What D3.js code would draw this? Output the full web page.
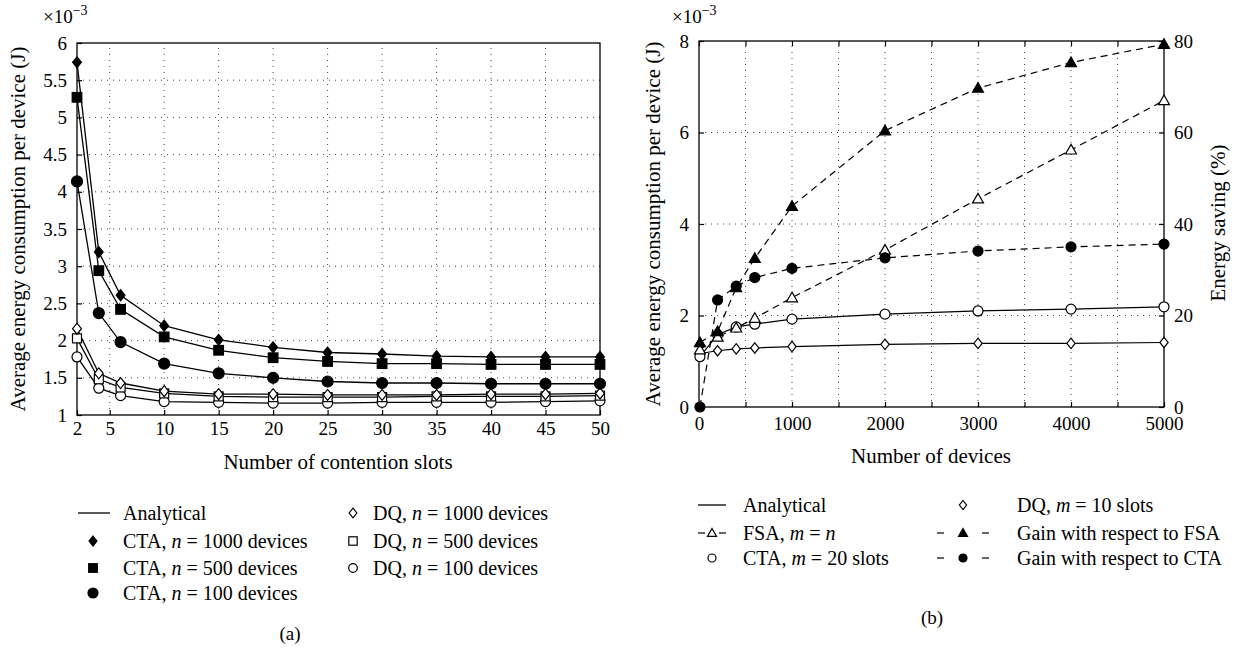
<!DOCTYPE html>
<html>
<head>
<meta charset="utf-8">
<script src="https://cdn.jsdelivr.net/npm/d3@7"></script>
<style>
body { margin: 0; background: #fff; }
svg { font-family: "Liberation Serif", "DejaVu Serif", serif; }
</style>
</head>
<body>
<div id="chart"></div>
<script>
// (a) energy vs number of contention slots (x10^-3 J)
var slots = [2, 4, 6, 10, 15, 20, 25, 30, 35, 40, 45, 50];
var ctaN1000 = [5.74, 3.19, 2.61, 2.20, 2.01, 1.91, 1.84, 1.82, 1.79, 1.78, 1.78, 1.78];
var ctaN500  = [5.27, 2.94, 2.42, 2.05, 1.87, 1.77, 1.72, 1.69, 1.69, 1.68, 1.68, 1.68];
var ctaN100  = [4.14, 2.37, 1.98, 1.69, 1.56, 1.50, 1.45, 1.43, 1.43, 1.42, 1.42, 1.42];
var dqN1000  = [2.16, 1.56, 1.43, 1.32, 1.28, 1.28, 1.27, 1.27, 1.27, 1.28, 1.28, 1.29];
var dqN500   = [2.03, 1.48, 1.37, 1.29, 1.25, 1.24, 1.24, 1.24, 1.25, 1.25, 1.25, 1.26];
var dqN100   = [1.78, 1.36, 1.26, 1.18, 1.17, 1.16, 1.16, 1.17, 1.17, 1.17, 1.18, 1.19];
var slotTicks = [2, 5, 10, 15, 20, 25, 30, 35, 40, 45, 50];
var energyTicksA = [1, 1.5, 2, 2.5, 3, 3.5, 4, 4.5, 5, 5.5, 6];

// (b) energy vs number of devices (x10^-3 J) and saving (%)
var devices = [10, 200, 400, 600, 1000, 2000, 3000, 4000, 5000];
var fsaMn   = [1.25, 1.53, 1.73, 1.94, 2.39, 3.43, 4.55, 5.62, 6.70];
var ctaM20  = [1.10, 1.58, 1.75, 1.81, 1.92, 2.03, 2.10, 2.14, 2.19];
var dqM10   = [1.17, 1.23, 1.27, 1.29, 1.32, 1.37, 1.39, 1.39, 1.41];
var gainFsa = [14.1, 16.5, 26.1, 32.5, 43.9, 60.4, 69.7, 75.3, 79.3];
var gainCta = [0, 23.4, 26.4, 28.3, 30.3, 32.6, 34.1, 35.0, 35.6];
var deviceTicks = [0, 500, 1000, 1500, 2000, 2500, 3000, 3500, 4000, 4500, 5000];
var energyTicksB = [0, 2, 4, 6, 8];
var savingTicks = [0, 20, 40, 60, 80];

var svg = d3.select("#chart").append("svg")
  .attr("width", 1234)
  .attr("height", 649);

var fmt = d3.format("~g");

function marker(g, type, x, y, s, filled) {
  var el;
  if (type == "circle") {
    el = g.append("circle").attr("cx", x).attr("cy", y).attr("r", s);
  } else if (type == "square") {
    el = g.append("rect").attr("x", x - s).attr("y", y - s).attr("width", 2 * s).attr("height", 2 * s);
  } else if (type == "diamond") {
    var w = s * 0.8;
    el = g.append("path").attr("d", "M" + x + "," + (y - s) + "L" + (x + w) + "," + y +
      "L" + x + "," + (y + s) + "L" + (x - w) + "," + y + "Z");
  } else {
    el = g.append("path").attr("d", "M" + x + "," + (y - s) + "L" + (x + s) + "," + (y + s * 0.75) +
      "L" + (x - s) + "," + (y + s * 0.75) + "Z");
  }
  el.attr("fill", filled ? "#000" : "#fff").attr("stroke", "#000").attr("stroke-width", 1.2);
}

function grid(g, x, y, xs, ys) {
  var gg = g.append("g").attr("stroke", "#444").attr("stroke-width", 1).attr("stroke-dasharray", "1,5");
  xs.forEach(function(v) {
    gg.append("line").attr("x1", x(v)).attr("x2", x(v)).attr("y1", y.range()[0]).attr("y2", y.range()[1]);
  });
  ys.forEach(function(v) {
    gg.append("line").attr("y1", y(v)).attr("y2", y(v)).attr("x1", x.range()[0]).attr("x2", x.range()[1]);
  });
}

function styleAxis(sel) {
  sel.attr("font-family", null).attr("font-size", 19);
  sel.select(".domain").remove();
  sel.selectAll("line").attr("stroke", "#000").attr("stroke-width", 1.2);
  sel.selectAll("text").attr("fill", "#000");
}

function box(g, x, y) {
  g.append("rect")
    .attr("x", x.range()[0]).attr("y", y.range()[1])
    .attr("width", x.range()[1] - x.range()[0])
    .attr("height", y.range()[0] - y.range()[1])
    .attr("fill", "none").attr("stroke", "#000").attr("stroke-width", 1.3);
}

function times10(x, y) {
  var t = svg.append("text").attr("x", x).attr("y", y).attr("font-size", 19);
  t.append("tspan").text("\u00d710");
  t.append("tspan").attr("dy", -8).attr("font-size", 14).text("\u22123");
}

/* ---------- (a) ---------- */
var xA = d3.scaleLinear().domain([2, 50]).range([77, 600]);
var yA = d3.scaleLinear().domain([1, 6]).range([415, 43]);
var gA = svg.append("g");

grid(gA, xA, yA, slotTicks.slice(1, -1), energyTicksA.slice(1, -1));

gA.append("g").attr("transform", "translate(0,415)")
  .call(d3.axisBottom(xA).tickValues(slotTicks).tickSize(-5).tickPadding(7).tickFormat(fmt))
  .call(styleAxis);
gA.append("g").attr("transform", "translate(77,0)")
  .call(d3.axisLeft(yA).tickValues(energyTicksA).tickSize(-5).tickPadding(10).tickFormat(fmt))
  .call(styleAxis);
box(gA, xA, yA);

var seriesA = [
  { v: ctaN1000, type: "diamond", fill: true, s: 5.5 },
  { v: ctaN500, type: "square", fill: true, s: 4.8 },
  { v: ctaN100, type: "circle", fill: true, s: 5.5 },
  { v: dqN1000, type: "diamond", fill: false, s: 5.5 },
  { v: dqN500, type: "square", fill: false, s: 4.5 },
  { v: dqN100, type: "circle", fill: false, s: 5 }
];
var lineA = d3.line().x(function(d, i) { return xA(slots[i]); }).y(function(d) { return yA(d); });
seriesA.forEach(function(s) {
  gA.append("path").datum(s.v).attr("d", lineA)
    .attr("fill", "none").attr("stroke", "#000").attr("stroke-width", 1.3);
});
seriesA.slice().reverse().forEach(function(s) {
  s.v.forEach(function(d, i) { marker(gA, s.type, xA(slots[i]), yA(d), s.s, s.fill); });
});

times10(43, 23);
svg.append("text").attr("transform", "translate(25,229) rotate(-90)")
  .attr("text-anchor", "middle").attr("font-size", 21)
  .text("Average energy consumption per device (J)");
svg.append("text").attr("x", 338).attr("y", 469)
  .attr("text-anchor", "middle").attr("font-size", 21)
  .text("Number of contention slots");

// legend (a)
var legA = svg.append("g").attr("font-size", 20);
var legAItems = [
  { col: 0, row: 0, line: true, text: ["Analytical"] },
  { col: 0, row: 1, type: "diamond", fill: true, s: 5, text: ["CTA, ", "n", " = 1000 devices"] },
  { col: 0, row: 2, type: "square", fill: true, s: 4.3, text: ["CTA, ", "n", " = 500 devices"] },
  { col: 0, row: 3, type: "circle", fill: true, s: 5, text: ["CTA, ", "n", " = 100 devices"] },
  { col: 1, row: 0, type: "diamond", fill: false, s: 4.8, text: ["DQ, ", "n", " = 1000 devices"] },
  { col: 1, row: 1, type: "square", fill: false, s: 4.2, text: ["DQ, ", "n", " = 500 devices"] },
  { col: 1, row: 2, type: "circle", fill: false, s: 4.3, text: ["DQ, ", "n", " = 100 devices"] }
];
var legARows = [513, 541, 568, 593];
var legAMark = [93, 353];
var legAText = [123, 373];
legAItems.forEach(function(it) {
  var y = legARows[it.row];
  if (it.line) {
    legA.append("line").attr("x1", 78).attr("x2", 110).attr("y1", y).attr("y2", y)
      .attr("stroke", "#000").attr("stroke-width", 1.3);
  } else {
    marker(legA, it.type, legAMark[it.col], y, it.s, it.fill);
  }
  var t = legA.append("text").attr("x", legAText[it.col]).attr("y", y).attr("dy", "0.35em");
  it.text.forEach(function(p, k) {
    t.append("tspan").attr("font-style", k == 1 ? "italic" : null).text(p);
  });
});
svg.append("text").attr("x", 290).attr("y", 633).attr("dy", "0.35em")
  .attr("text-anchor", "middle").attr("font-size", 19).text("(a)");

/* ---------- (b) ---------- */
var xB = d3.scaleLinear().domain([0, 5000]).range([699, 1164]);
var yB = d3.scaleLinear().domain([0, 8]).range([407, 41]);
var yB2 = d3.scaleLinear().domain([0, 80]).range([407, 41]);
var gB = svg.append("g");

grid(gB, xB, yB, deviceTicks.slice(1, -1), energyTicksB.slice(1, -1));

gB.append("g").attr("transform", "translate(0,407)")
  .call(d3.axisBottom(xB).tickValues(deviceTicks).tickSize(-5).tickPadding(10)
    .tickFormat(function(d) { return d % 1000 == 0 ? d : ""; }))
  .call(styleAxis);
gB.append("g").attr("transform", "translate(0,41)")
  .call(d3.axisTop(xB).tickValues(deviceTicks).tickSize(-5).tickFormat(""))
  .call(styleAxis);
gB.append("g").attr("transform", "translate(699,0)")
  .call(d3.axisLeft(yB).tickValues(energyTicksB).tickSize(-5).tickPadding(10))
  .call(styleAxis);
gB.append("g").attr("transform", "translate(1164,0)")
  .call(d3.axisRight(yB2).tickValues(savingTicks).tickSize(-5).tickPadding(10))
  .call(styleAxis);
box(gB, xB, yB);

var seriesB = [
  { v: dqM10, y: yB, dash: null, type: "diamond", fill: false, s: 5.2 },
  { v: ctaM20, y: yB, dash: null, type: "circle", fill: false, s: 5 },
  { v: fsaMn, y: yB, dash: "7,5", type: "triangle", fill: false, s: 5.5 },
  { v: gainCta, y: yB2, dash: "7,5", type: "circle", fill: true, s: 5 },
  { v: gainFsa, y: yB2, dash: "7,5", type: "triangle", fill: true, s: 5.5 }
];
seriesB.forEach(function(s) {
  var ln = d3.line().x(function(d, i) { return xB(devices[i]); }).y(function(d) { return s.y(d); });
  gB.append("path").datum(s.v).attr("d", ln)
    .attr("fill", "none").attr("stroke", "#000").attr("stroke-width", 1.2)
    .attr("stroke-dasharray", s.dash);
});
seriesB.forEach(function(s) {
  s.v.forEach(function(d, i) { marker(gB, s.type, xB(devices[i]), s.y(d), s.s, s.fill); });
});

times10(672, 23);
svg.append("text").attr("transform", "translate(660,224) rotate(-90)")
  .attr("text-anchor", "middle").attr("font-size", 21)
  .text("Average energy consumption per device (J)");
svg.append("text").attr("transform", "translate(1225,223) rotate(-90)")
  .attr("text-anchor", "middle").attr("font-size", 21)
  .text("Energy saving (%)");
svg.append("text").attr("x", 931).attr("y", 463)
  .attr("text-anchor", "middle").attr("font-size", 21)
  .text("Number of devices");

// legend (b)
var legB = svg.append("g").attr("font-size", 20);
var legBItems = [
  { col: 0, row: 0, sample: "line", text: ["Analytical"] },
  { col: 0, row: 1, sample: "dash", type: "triangle", fill: false, text: ["FSA, ", "m", " = ", "n"] },
  { col: 0, row: 2, type: "circle", fill: false, text: ["CTA, ", "m", " = 20 slots"] },
  { col: 1, row: 0, type: "diamond", fill: false, text: ["DQ, ", "m", " = 10 slots"] },
  { col: 1, row: 1, sample: "dash", type: "triangle", fill: true, text: ["Gain with respect to FSA"] },
  { col: 1, row: 2, sample: "dash", type: "circle", fill: true, text: ["Gain with respect to CTA"] }
];
var legBRows = [505, 533, 558];
var legBMark = [712, 963];
var legBHalf = [14, 26];
var legBText = [743, 1017];
legBItems.forEach(function(it) {
  var y = legBRows[it.row], cx = legBMark[it.col], h = legBHalf[it.col];
  if (it.sample == "line") {
    legB.append("line").attr("x1", cx - h).attr("x2", cx + h).attr("y1", y).attr("y2", y)
      .attr("stroke", "#000").attr("stroke-width", 1.3);
  } else if (it.sample == "dash") {
    [-1, 1].forEach(function(sg) {
      legB.append("line").attr("x1", cx + sg * h).attr("x2", cx + sg * (h - 7)).attr("y1", y).attr("y2", y)
        .attr("stroke", "#000").attr("stroke-width", 1.2);
    });
  }
  if (it.type) marker(legB, it.type, cx, y, it.type == "circle" ? 4 : 4.5, it.fill);
  var t = legB.append("text").attr("x", legBText[it.col]).attr("y", y).attr("dy", "0.35em");
  it.text.forEach(function(p) {
    t.append("tspan").attr("font-style", (p == "m" || p == "n") ? "italic" : null).text(p);
  });
});
svg.append("text").attr("x", 932).attr("y", 617).attr("dy", "0.35em")
  .attr("text-anchor", "middle").attr("font-size", 19).text("(b)");
</script>
</body>
</html>
